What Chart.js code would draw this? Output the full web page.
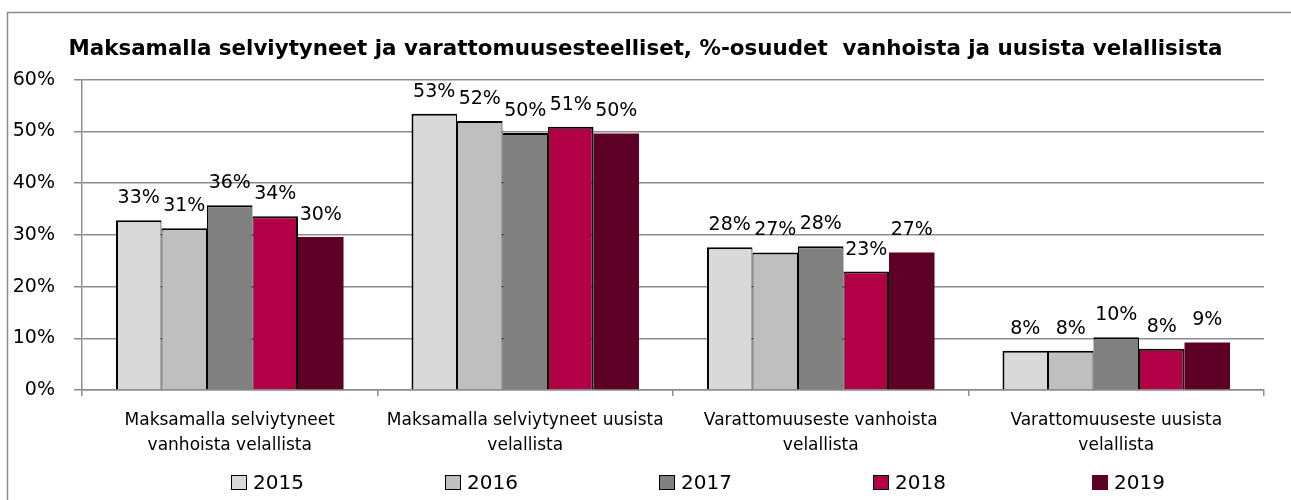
<!DOCTYPE html>
<html><head><meta charset="utf-8">
<script src="https://cdn.jsdelivr.net/npm/chart.js@4.4.1/dist/chart.umd.min.js"></script>
<style>
html,body{margin:0;padding:0;background:#fff;}
#wrap{position:relative;width:1291px;height:500px;overflow:hidden;}
#legend{position:absolute;top:470px;left:0;width:1291px;height:24px;font-family:"DejaVu Sans",sans-serif;font-size:20px;color:#000;}
.li{position:absolute;top:0;height:24px;display:flex;align-items:center;white-space:nowrap;}
.sw{width:16px;height:15px;border:1.5px solid #000;margin-right:6px;box-sizing:border-box;}
</style></head><body>
<div id="wrap"><canvas id="c" width="1291" height="500"></canvas><div id="legend"></div></div>
<script>
const titleText = "Maksamalla selviytyneet ja varattomuusesteelliset, %-osuudet  vanhoista ja uusista velallisista";
const categories = [
  ["Maksamalla selviytyneet", "vanhoista velallista"],
  ["Maksamalla selviytyneet uusista", "velallista"],
  ["Varattomuuseste vanhoista", "velallista"],
  ["Varattomuuseste uusista", "velallista"]
];
const years = ["2015", "2016", "2017", "2018", "2019"];
const v2015 = [32.8, 53.4, 27.6, 7.6];
const v2016 = [31.3, 52.0, 26.6, 7.6];
const v2017 = [35.7, 49.7, 27.8, 10.2];
const v2018 = [33.6, 50.9, 22.9, 8.0];
const v2019 = [29.6, 49.6, 26.6, 9.2];
const yTicks = [0, 10, 20, 30, 40, 50, 60];

const seriesValues = [v2015, v2016, v2017, v2018, v2019];
const fills = ["#d9d9d9", "#bfbfbf", "#808080", "#b20047", "#5c0026"];
const edges = ["#000000", "#000000", "#000000", "#000000", "#5c0026"];
const borders = [
  {top: 2, left: 2, right: 1, bottom: 0},
  {top: 2, left: 1, right: 1, bottom: 0},
  {top: 2, left: 1, right: 1, bottom: 0},
  {top: 2, left: 1, right: 2, bottom: 0},
  0
];
const legendLeft = [231, 445, 659, 873, 1092];
const FONT = '"DejaVu Sans", sans-serif';

const datasets = years.map((y, i) => ({
  label: y,
  data: seriesValues[i],
  backgroundColor: fills[i],
  borderColor: edges[i],
  borderWidth: borders[i],
  borderSkipped: false,
  barPercentage: 1.0,
  categoryPercentage: 0.77
}));

const framePlugin = {
  id: 'frame',
  afterLayout(chart) {
    if (chart.titleBlock) { chart.titleBlock.left += 17; }
  },
  beforeDraw(chart) {
    const ctx = chart.ctx;
    ctx.save();
    ctx.fillStyle = '#fff';
    ctx.fillRect(0, 0, chart.width, chart.height);
    ctx.strokeStyle = '#8c8c8c';
    ctx.lineWidth = 1.5;
    ctx.beginPath();
    ctx.moveTo(7.5, 520);
    ctx.lineTo(7.5, 12.5);
    ctx.lineTo(1300, 12.5);
    ctx.stroke();
    ctx.restore();
  }
};

const labelPlugin = {
  id: 'barLabels',
  afterDatasetsDraw(chart) {
    const ctx = chart.ctx;
    ctx.save();
    ctx.font = '19px ' + FONT;
    ctx.fillStyle = '#000';
    ctx.textAlign = 'center';
    ctx.textBaseline = 'alphabetic';
    chart.data.datasets.forEach((ds, di) => {
      const meta = chart.getDatasetMeta(di);
      meta.data.forEach((el, i) => {
        ctx.fillText(Math.round(ds.data[i]) + '%', el.x, el.y - 17);
      });
    });
    ctx.restore();
  }
};

new Chart(document.getElementById('c'), {
  type: 'bar',
  data: { labels: categories, datasets },
  options: {
    responsive: false,
    animation: false,
    layout: { padding: { left: 10, right: 27, top: 0, bottom: 30 } },
    plugins: {
      legend: { display: false },
      tooltip: { enabled: false },
      title: {
        display: true,
        text: titleText,
        color: '#000',
        font: { family: FONT, size: 21.4, weight: 'bold', lineHeight: 1.2 },
        padding: { top: 37, bottom: 17 }
      }
    },
    scales: {
      x: {
        offset: true,
        grid: { display: true, offset: true, drawOnChartArea: false, drawTicks: true, tickLength: 6, color: '#8c8c8c', lineWidth: 1.5 },
        border: { display: true, color: '#8c8c8c', width: 1.5 },
        ticks: { color: '#000', font: { family: FONT, size: 17, lineHeight: 1.47 }, padding: 12, maxRotation: 0, autoSkip: false }
      },
      y: {
        min: 0, max: 60,
        afterBuildTicks(scale) { scale.ticks = yTicks.map(v => ({ value: v })); },
        afterFit(scale) { scale.width = 72; },
        grid: { color: '#8c8c8c', lineWidth: 1.5, tickLength: 8, drawTicks: true },
        border: { display: true, color: '#8c8c8c', width: 1.5 },
        ticks: { color: '#000', font: { family: FONT, size: 19 }, padding: 19, callback: v => v + '%' }
      }
    }
  },
  plugins: [framePlugin, labelPlugin]
});

const lg = document.getElementById('legend');
years.forEach((y, i) => {
  const it = document.createElement('div');
  it.className = 'li';
  it.style.left = legendLeft[i] + 'px';
  const sw = document.createElement('span');
  sw.className = 'sw';
  sw.style.background = fills[i];
  if (i === 4) sw.style.borderColor = fills[i];
  const tx = document.createElement('span');
  tx.textContent = y;
  it.appendChild(sw); it.appendChild(tx);
  lg.appendChild(it);
});
</script>
</body></html>
